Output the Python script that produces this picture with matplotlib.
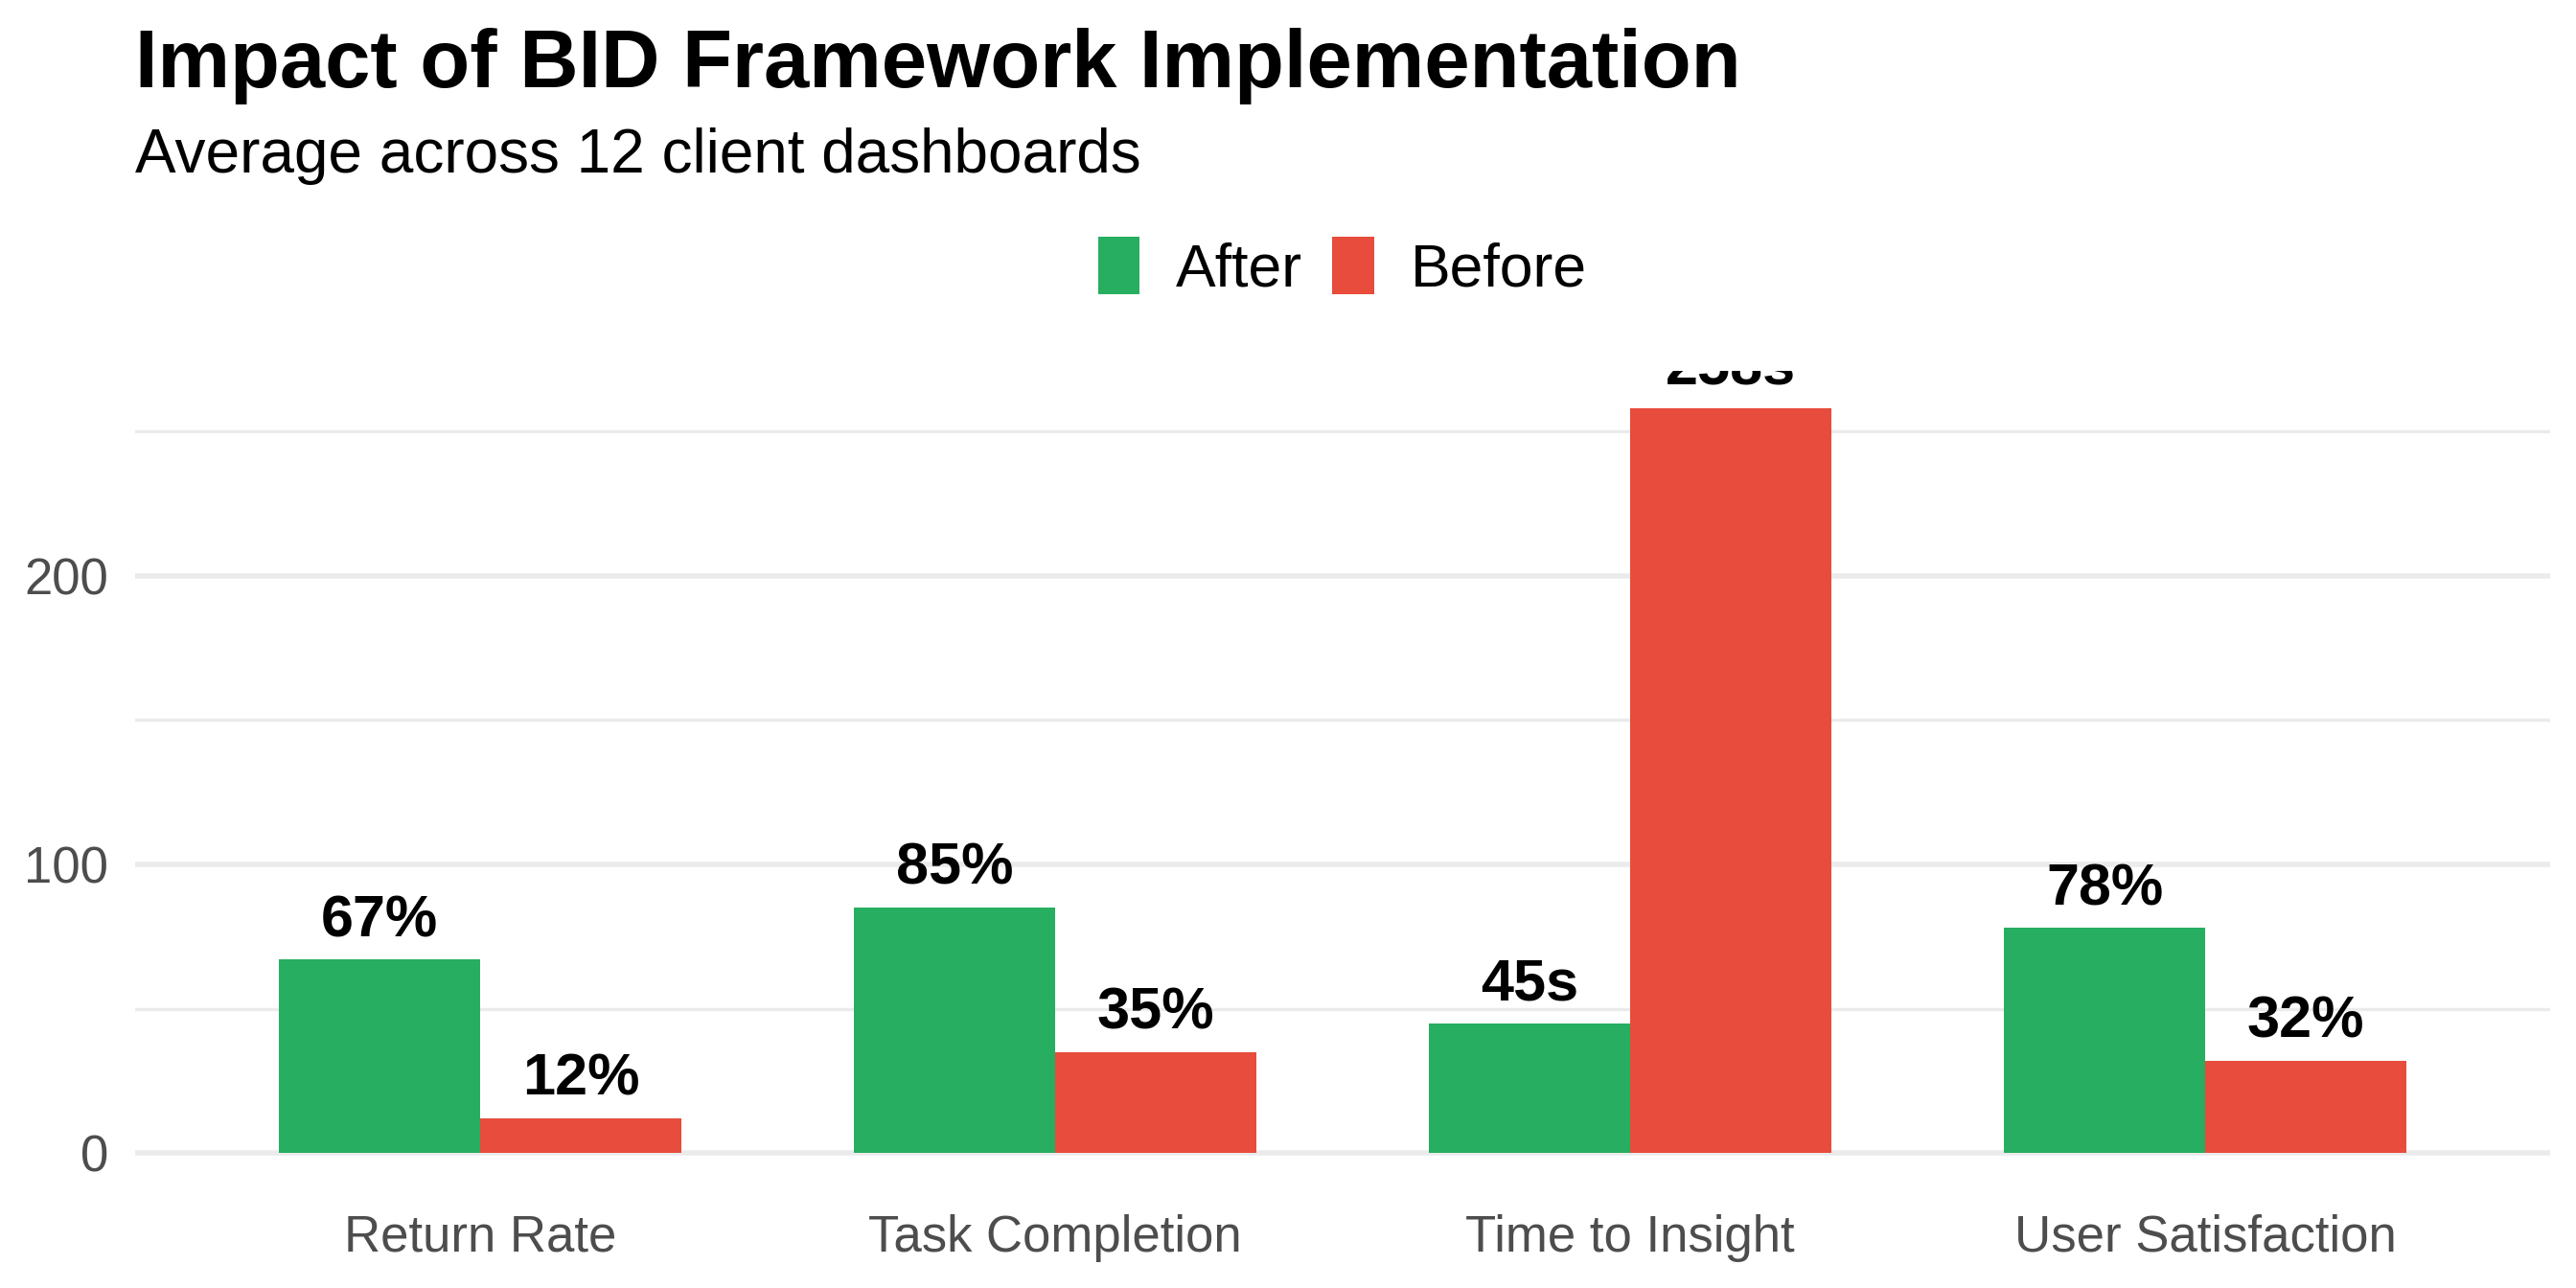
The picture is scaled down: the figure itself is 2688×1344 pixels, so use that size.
import matplotlib.pyplot as plt
import numpy as np

plt.rcParams['font.family'] = ['Liberation Sans', 'DejaVu Sans']

# data
categories = ['Return Rate', 'Task Completion', 'Time to Insight', 'User Satisfaction']
after_vals = [67, 85, 45, 78]
before_vals = [12, 35, 258, 32]
after_labels = ['67%', '85%', '45s', '78%']
before_labels = ['12%', '35%', '258s', '32%']

green = '#27AE60'
red = '#E74C3C'

fig = plt.figure(figsize=(13.44, 6.72), dpi=200)
ax = fig.add_axes([141 / 2688, 1 - 1242 / 1344, (2661 - 141) / 2688, (1242 - 387) / 1344])

x = np.arange(len(categories))
w = 0.35
b1 = ax.bar(x - w / 2, after_vals, w, color=green, label='After', zorder=2)
b2 = ax.bar(x + w / 2, before_vals, w, color=red, label='Before', zorder=2)

# value labels above bars (clipped to panel like ggplot)
for bars, labs in [(b1, after_labels), (b2, before_labels)]:
    for rect, lab in zip(bars, labs):
        ax.annotate(lab, (rect.get_x() + rect.get_width() / 2, rect.get_height()),
                    xytext=(0, 4), textcoords='offset points', ha='center', va='bottom',
                    fontsize=22, fontweight='bold', color='black', annotation_clip=False,
                    clip_on=True, zorder=3)

top = max(after_vals + before_vals)
ax.set_ylim(-0.05 * top, 1.05 * top)
ax.set_xlim(-0.6, len(categories) - 0.4)
ax.set_xticks(x)
ax.set_xticklabels(categories)
ax.set_yticks([0, 100, 200])
ax.set_yticks([50, 150, 250], minor=True)
ax.tick_params(axis='both', length=0, labelsize=19, labelcolor='#4D4D4D', pad=10)
ax.tick_params(axis='x', pad=9)
ax.tick_params(axis='y', which='minor', length=0)
ax.grid(axis='y', which='major', color='#EBEBEB', linewidth=2.0, zorder=0)
ax.grid(axis='y', which='minor', color='#EBEBEB', linewidth=1.2, zorder=0)
ax.set_axisbelow(True)
for s in ax.spines.values():
    s.set_visible(False)

fig.text(82 / 1568, 1 - 40 / 784, 'Impact of BID Framework Implementation',
         fontsize=30.6, fontweight='bold', va='center', ha='left')
fig.text(82 / 1568, 1 - 95 / 784, 'Average across 12 client dashboards',
         fontsize=23, va='center', ha='left')

fig.legend(handles=[b1, b2], loc='center', bbox_to_anchor=(817 / 1568, 1 - 163 / 784),
           ncol=2, frameon=False, fontsize=22.5, handlelength=0.7, handleheight=1.1,
           handletextpad=0.6, columnspacing=0.5)

fig.savefig('out.png', dpi=200)
